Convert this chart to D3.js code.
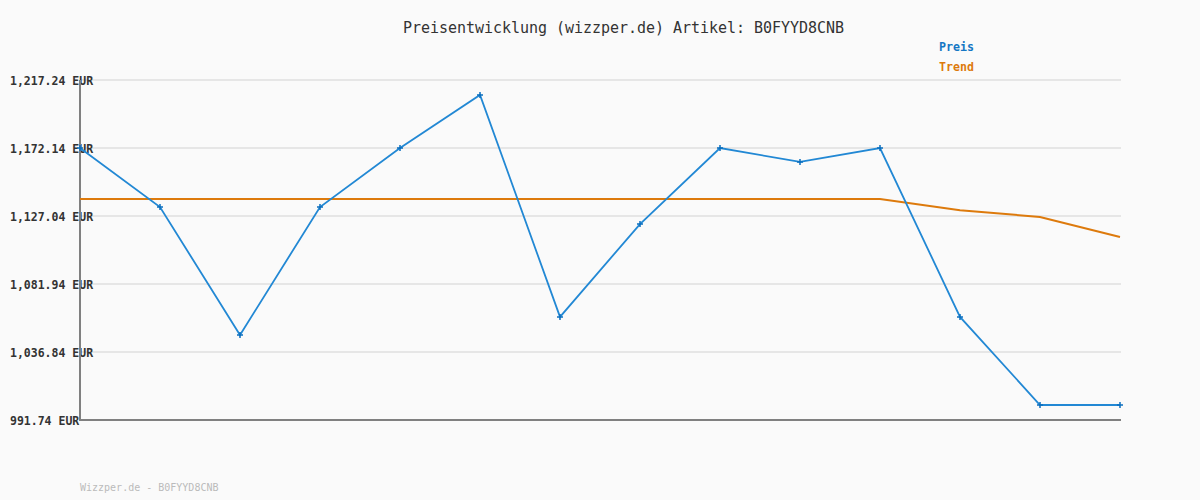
<!DOCTYPE html>
<html><head><meta charset="utf-8">
<script src="https://cdn.jsdelivr.net/npm/d3@7"></script>
<style>
html,body{margin:0;padding:0;background:#fafafa;}
svg{display:block;}
</style></head>
<body>
<svg id="c" width="1200" height="500"></svg>
<script>
const points = [0,1,2,3,4,5,6,7,8,9,10,11,12,13];
const preis = [1172.14, 1133.0, 1048.1, 1133.0, 1172.14, 1207.3, 1060.1, 1121.7, 1172.14, 1162.9, 1172.14, 1060.1, 1001.7, 1001.7];
const trend = [1138.3, 1138.3, 1138.3, 1138.3, 1138.3, 1138.3, 1138.3, 1138.3, 1138.3, 1138.3, 1138.3, 1130.9, 1126.4, 1113.1];
const yTicks = [991.74, 1036.84, 1081.94, 1127.04, 1172.14, 1217.24];
const title = "Preisentwicklung (wizzper.de) Artikel: B0FYYD8CNB";
const footer = "Wizzper.de - B0FYYD8CNB";

const svg = d3.select("#c");
const font = "'DejaVu Sans Mono', 'Liberation Mono', monospace";
svg.append("rect").attr("width",1200).attr("height",500).attr("fill","#fafafa");

const x = d3.scaleLinear().domain([0, 13]).range([80, 1120]);
const y = d3.scaleLinear().domain([991.74, 1217.24]).range([420, 80]);

// gridlines
svg.append("g").selectAll("line").data(yTicks.slice(1)).join("line")
  .attr("x1",80).attr("x2",1121).attr("y1",d=>y(d)).attr("y2",d=>y(d))
  .attr("stroke","#e6e6e6").attr("stroke-width",2);

// y axis labels
const yAxis = d3.axisLeft(y).tickValues(yTicks).tickSize(0)
  .tickFormat(d => d3.format(",.2f")(d) + " EUR");
const ga = svg.append("g").attr("transform","translate(80,0)").call(yAxis);
ga.select(".domain").remove();
ga.selectAll("text").attr("x", -70).attr("text-anchor","start").attr("dy","0.35em")
  .attr("font-family",font).attr("font-size","11.5px").attr("font-weight","bold").attr("fill","#333");

// axes lines
svg.append("line").attr("x1",80).attr("x2",80).attr("y1",80).attr("y2",421)
  .attr("stroke","#808080").attr("stroke-width",2);
svg.append("line").attr("x1",79).attr("x2",1121).attr("y1",420).attr("y2",420)
  .attr("stroke","#808080").attr("stroke-width",2);

// trend line
const lineT = d3.line().x((d,i)=>x(points[i])).y(d=>y(d));
svg.append("path").datum(trend).attr("d",lineT).attr("fill","none")
  .attr("stroke","#dd7a0c").attr("stroke-width",2);

// price line
svg.append("path").datum(preis).attr("d",lineT).attr("fill","none")
  .attr("stroke","#2288d4").attr("stroke-width",1.8);

// markers
const m = svg.append("g");
preis.forEach((v,i)=>{
  const cx = x(points[i]), cy = y(v);
  m.append("path").attr("d",`M${cx-3},${cy}L${cx+3},${cy}M${cx},${cy-3}L${cx},${cy+3}`)
    .attr("stroke","#0b6fbf").attr("stroke-width",1.5);
});

// title
svg.append("text").attr("x",403).attr("y",33).text(title)
  .attr("font-family",font).attr("font-size","15px").attr("fill","#333")
  .attr("textLength",441).attr("lengthAdjust","spacing");

// legend
svg.append("text").attr("x",939).attr("y",51).text("Preis")
  .attr("font-family",font).attr("font-size","11.6px").attr("font-weight","bold").attr("fill","#1577c4");
svg.append("text").attr("x",939).attr("y",71).text("Trend")
  .attr("font-family",font).attr("font-size","11.6px").attr("font-weight","bold").attr("fill","#dd7a0c");

// footer
svg.append("text").attr("x",80).attr("y",491).text(footer)
  .attr("font-family",font).attr("font-size","10px").attr("fill","#bbbbbb");
</script>
</body></html>
